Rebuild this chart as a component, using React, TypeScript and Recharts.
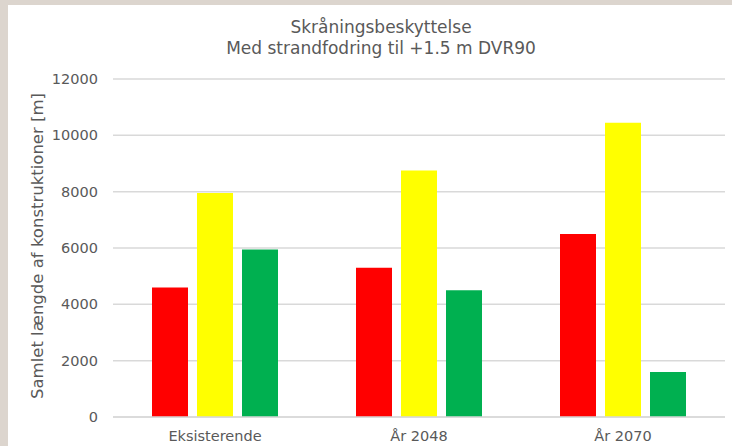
import React from 'react';
import { BarChart, Bar, XAxis, YAxis, CartesianGrid } from 'recharts';

const periods = ['Eksisterende', 'År 2048', 'År 2070'];
const redValues = [4600, 5300, 6500];
const yellowValues = [7950, 8750, 10450];
const greenValues = [5950, 4500, 1600];
const yTicks = [0, 2000, 4000, 6000, 8000, 10000, 12000];

const data = periods.map((period, i) => ({
  period,
  red: redValues[i],
  yellow: yellowValues[i],
  green: greenValues[i],
}));

const FONT = '"DejaVu Sans", Verdana, sans-serif';
const TEXT = '#595959';
const GRID = '#d9d9d9';

const YLabel = ({ viewBox }: any) => {
  const cx = viewBox.x + 37;
  const cy = viewBox.y + viewBox.height / 2 - 2;
  return (
    <text
      x={cx}
      y={cy}
      transform={`rotate(-90, ${cx}, ${cy})`}
      textAnchor="middle"
      dominantBaseline="central"
      fill={TEXT}
      fontSize={16.5}
      fontFamily={FONT}
    >
      Samlet længde af konstruktioner [m]
    </text>
  );
};

export default function App() {
  return (
    <div style={{ position: 'relative', width: 732, height: 446, background: '#dcd5ce', overflow: 'hidden' }}>
      <style>{`body{margin:0}`}</style>
      <div style={{ position: 'absolute', left: 8, top: 5, width: 724, height: 441, background: '#fff' }} />
      <div
        style={{
          position: 'absolute',
          left: 0,
          top: 17,
          width: 762,
          textAlign: 'center',
          fontFamily: FONT,
          fontSize: 17,
          lineHeight: '21px',
          color: TEXT,
        }}
      >
        <div>Skråningsbeskyttelse</div>
        <div>Med strandfodring til +1.5 m DVR90</div>
      </div>
      <div style={{ position: 'absolute', left: 0, top: 0 }}>
        <BarChart
          width={732}
          height={446}
          data={data}
          margin={{ top: 79, right: 7, bottom: 0, left: 0 }}
          barGap={9}
          barSize={36}
        >
          <CartesianGrid vertical={false} stroke={GRID} strokeWidth={1.5} />
          <XAxis
            dataKey="period"
            height={29}
            tickLine={false}
            axisLine={{ stroke: GRID, strokeWidth: 1.5 }}
            tickMargin={8}
            tick={{ fill: TEXT, fontSize: 14.5, fontFamily: FONT }}
          />
          <YAxis
            width={113}
            domain={[0, 12000]}
            ticks={yTicks}
            interval={0}
            tickLine={false}
            axisLine={false}
            tickMargin={9}
            tick={{ fill: TEXT, fontSize: 14.5, fontFamily: FONT }}
            label={<YLabel />}
          />
          <Bar dataKey="red" fill="#ff0000" isAnimationActive={false} />
          <Bar dataKey="yellow" fill="#ffff00" isAnimationActive={false} />
          <Bar dataKey="green" fill="#00b050" isAnimationActive={false} />
        </BarChart>
      </div>
    </div>
  );
}
